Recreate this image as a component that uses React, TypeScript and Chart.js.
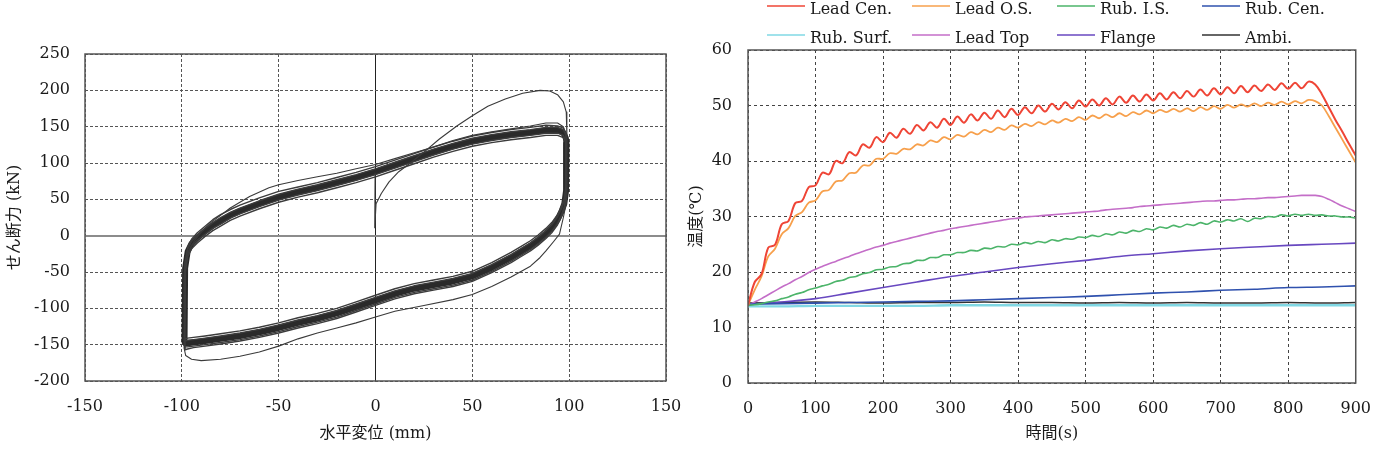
import React, { useEffect, useRef } from "react";
import { Chart, registerables } from "chart.js";

Chart.register(...registerables);

const SERIF = "'DejaVu Serif', 'Noto Sans CJK JP', serif";
const TEXT = "#1a1a1a";

// ---------- Hysteresis loops: shear force vs horizontal displacement ----------
// Displacement stations of the loading branch (moving right) and unloading branch (moving left), mm
const upperX = [-98.6, -98.3, -97, -95, -92, -88, -84, -80, -75, -70, -60, -50, -40, -30, -20, -10, 0, 10, 20, 30, 40, 50, 60, 70, 80, 88, 94, 97, 98.3];
const lowerX = [98.6, 98.4, 97.5, 96, 94, 91, 88, 84, 80, 75, 70, 60, 50, 40, 30, 20, 10, 0, -10, -20, -30, -40, -50, -60, -70, -80, -88, -94, -97, -98.3];

// Steady cycles (kN)
const coreUpper = [-146, -45, -22, -11, -3, 6, 14, 20, 28, 34, 44, 53, 60, 66, 73, 80, 88, 97, 106, 115, 123, 130, 135, 139, 142, 145, 145, 142, 134];
const coreLower = [128, 62, 44, 33, 22, 11, 3, -6, -14, -22, -30, -44, -56, -63, -68, -73, -80, -89, -98, -107, -114, -120, -127, -133, -138, -142, -145, -147, -148, -148];

const cycleAUpper = [-150, -38, -16, -5, 4, 13, 22, 29, 36, 42, 52, 61, 67, 73, 80, 87, 95, 104, 113, 122, 130, 137, 142, 146, 149, 152, 151, 148, 140];
const cycleALower = [136, 70, 52, 40, 29, 18, 10, 1, -7, -15, -23, -37, -49, -56, -61, -66, -73, -82, -91, -100, -107, -113, -120, -126, -131, -135, -138, -140, -141, -142];

const cycleBUpper = [-142, -52, -29, -18, -10, -1, 7, 13, 21, 27, 37, 46, 53, 59, 66, 73, 81, 90, 99, 108, 116, 123, 128, 132, 135, 138, 138, 135, 128];
const cycleBLower = [120, 55, 37, 26, 15, 4, -4, -13, -21, -29, -37, -51, -63, -70, -75, -80, -87, -96, -105, -114, -121, -127, -134, -140, -145, -149, -152, -154, -156, -157];

const cycleCUpper = [-155, -42, -19, -8, 1, 10, 18, 25, 32, 38, 48, 57, 64, 70, 77, 84, 92, 101, 110, 119, 127, 134, 139, 143, 146, 149, 149, 146, 138];
const cycleCLower = [132, 58, 40, 28, 17, 6, -2, -11, -19, -27, -35, -49, -61, -68, -73, -78, -85, -94, -103, -112, -119, -125, -132, -138, -143, -147, -150, -152, -153, -153];

const cycleDUpper = [-144, -48, -25, -14, -6, 2, 10, 16, 24, 30, 40, 49, 56, 62, 69, 76, 84, 93, 102, 111, 119, 126, 131, 135, 138, 141, 141, 138, 130];
const cycleDLower = [124, 66, 48, 37, 26, 15, 7, -2, -10, -18, -26, -40, -52, -59, -64, -69, -76, -85, -94, -103, -110, -116, -123, -129, -134, -138, -141, -143, -144, -145];

// First cycle (virgin loading) traced on its own
const firstX = [-0.2, -0.4, 0.3, 3, 7, 12, 18, 25, 33, 42, 50, 58, 67, 76, 85, 90, 94, 97, 98.5, 98.8, 98.9, 98.5, 97, 95, 92, 88, 85, 80, 70, 60, 50, 40, 25, 10, 0, -10, -20, -30, -40, -50, -60, -70, -80, -90, -95, -98, -98.8, -98.9, -98.3, -96, -93, -90, -85, -80, -75, -65, -55, -50, -40, -30, -20, -10, 0, 10, 20, 30, 40, 50, 60, 70, 80, 88, 94, 97, 98.4];
const firstY = [86, 11, 44, 58, 74, 88, 100, 115, 133, 151, 165, 178, 188, 196, 200, 199, 194, 184, 170, 140, 60, 45, 25, 2, -8, -21, -30, -42, -57, -70, -81, -88, -96, -104, -112, -120, -127, -134, -142, -152, -160, -166, -170, -172, -170, -165, -155, -60, -35, -18, -5, 5, 18, 28, 38, 54, 66, 70, 76, 81, 86, 92, 98, 106, 114, 122, 131, 138, 143, 147, 151, 155, 155, 150, 138];

const forceTicks = { min: -200, max: 250, step: 50 };
const dispTicks = { min: -150, max: 150, step: 50 };

// ---------- Temperature histories ----------
const timeFine = [0, 10, 20, 30, 40, 50, 60, 70, 80, 90, 100, 110, 120, 130, 140, 150, 160, 170, 180, 190, 200, 210, 220, 230, 240, 250, 260, 270, 280, 290, 300, 310, 320, 330, 340, 350, 360, 370, 380, 390, 400, 410, 420, 430, 440, 450, 460, 470, 480, 490, 500, 510, 520, 530, 540, 550, 560, 570, 580, 590, 600, 610, 620, 630, 640, 650, 660, 670, 680, 690, 700, 710, 720, 730, 740, 750, 760, 770, 780, 790, 800, 810, 820, 830, 840, 850, 860, 870, 880, 890, 900];
const timeCoarse = [0, 50, 100, 150, 200, 250, 300, 350, 400, 450, 500, 550, 600, 650, 700, 750, 800, 850, 900];

const leadCen = [14.0, 18.2, 19.6, 24.4, 24.9, 28.6, 29.2, 32.4, 32.8, 35.3, 35.6, 37.9, 37.6, 40.0, 39.6, 41.6, 41.0, 43.0, 42.4, 44.3, 43.4, 45.1, 44.2, 45.8, 44.9, 46.5, 45.5, 47.0, 46.0, 47.6, 46.5, 48.0, 46.9, 48.4, 47.3, 48.7, 47.6, 49.1, 47.9, 49.4, 48.3, 49.7, 48.6, 50.0, 48.9, 50.3, 49.3, 50.6, 49.5, 50.9, 49.8, 51.1, 50.0, 51.3, 50.2, 51.6, 50.5, 51.8, 50.7, 52.0, 50.9, 52.2, 51.1, 52.4, 51.3, 52.6, 51.6, 52.9, 51.8, 53.1, 52.0, 53.3, 52.2, 53.5, 52.4, 53.6, 52.6, 53.8, 52.8, 54.0, 53.0, 54.1, 53.1, 54.3, 53.8, 52.0, 49.7, 47.4, 45.3, 43.1, 41.0];
const leadOS = [14.0, 16.8, 19.2, 22.8, 24.2, 26.8, 27.9, 30.1, 30.8, 32.5, 32.9, 34.5, 34.8, 36.3, 36.5, 37.8, 37.9, 39.2, 39.2, 40.4, 40.4, 41.4, 41.3, 42.2, 42.1, 43.0, 42.8, 43.7, 43.4, 44.3, 43.9, 44.7, 44.4, 45.2, 44.8, 45.6, 45.2, 46.0, 45.6, 46.4, 46.0, 46.7, 46.3, 47.0, 46.6, 47.3, 46.9, 47.6, 47.2, 47.9, 47.4, 48.2, 47.7, 48.4, 47.9, 48.6, 48.1, 48.8, 48.4, 49.1, 48.6, 49.2, 48.8, 49.4, 48.9, 49.5, 49.0, 49.7, 49.2, 49.9, 49.4, 50.1, 49.6, 50.2, 49.8, 50.4, 49.9, 50.5, 50.1, 50.7, 50.2, 50.8, 50.4, 51.0, 50.8, 50.0, 48.1, 46.0, 43.9, 41.8, 39.7];
const rubIS = [14.0, 14.1, 14.3, 14.6, 14.8, 15.2, 15.5, 16.0, 16.3, 16.8, 17.1, 17.5, 17.8, 18.3, 18.5, 19.0, 19.2, 19.7, 19.9, 20.4, 20.5, 20.9, 21.0, 21.5, 21.6, 22.1, 22.1, 22.6, 22.6, 23.1, 23.1, 23.5, 23.5, 23.9, 23.8, 24.3, 24.2, 24.6, 24.5, 25.0, 24.9, 25.3, 25.1, 25.5, 25.3, 25.8, 25.6, 26.0, 25.9, 26.3, 26.2, 26.6, 26.4, 26.9, 26.7, 27.2, 27.0, 27.5, 27.3, 27.8, 27.6, 28.1, 27.9, 28.4, 28.1, 28.6, 28.4, 28.9, 28.6, 29.2, 29.0, 29.4, 29.2, 29.6, 29.1, 29.7, 29.6, 30.0, 29.9, 30.3, 30.1, 30.4, 30.2, 30.4, 30.2, 30.3, 30.1, 30.1, 29.9, 29.9, 29.7];
const leadTop = [14.0, 14.6, 15.2, 15.9, 16.6, 17.3, 17.9, 18.6, 19.2, 19.9, 20.5, 21.0, 21.5, 21.9, 22.4, 22.8, 23.3, 23.7, 24.1, 24.5, 24.8, 25.2, 25.5, 25.8, 26.1, 26.4, 26.7, 27.0, 27.3, 27.5, 27.8, 28.0, 28.2, 28.4, 28.6, 28.8, 29.0, 29.2, 29.4, 29.6, 29.7, 29.9, 30.0, 30.1, 30.2, 30.3, 30.4, 30.5, 30.6, 30.7, 30.8, 30.9, 31.0, 31.2, 31.3, 31.4, 31.5, 31.6, 31.8, 31.9, 32.0, 32.1, 32.2, 32.3, 32.4, 32.5, 32.6, 32.7, 32.8, 32.8, 32.9, 33.0, 33.0, 33.1, 33.2, 33.2, 33.3, 33.4, 33.4, 33.5, 33.6, 33.7, 33.8, 33.8, 33.8, 33.6, 33.1, 32.5, 31.9, 31.4, 30.9];
const flange = [14.2, 14.6, 15.2, 16.2, 17.2, 18.2, 19.2, 20.0, 20.8, 21.5, 22.1, 22.8, 23.3, 23.8, 24.2, 24.5, 24.8, 25.0, 25.2];
const rubCen = [14.2, 14.3, 14.4, 14.5, 14.6, 14.7, 14.8, 15.0, 15.2, 15.4, 15.6, 15.9, 16.2, 16.4, 16.7, 16.9, 17.2, 17.3, 17.5];
const rubSurf = [13.8, 13.8, 13.9, 13.9, 13.9, 13.9, 14.0, 14.0, 14.0, 14.0, 14.0, 14.0, 14.0, 14.0, 14.0, 14.0, 14.0, 14.0, 14.0];
const ambient = [14.4, 14.5, 14.6, 14.5, 14.4, 14.5, 14.5, 14.6, 14.5, 14.5, 14.4, 14.5, 14.4, 14.5, 14.4, 14.4, 14.5, 14.4, 14.5];

const seriesLabels = ["Lead Cen.", "Lead O.S.", "Rub. I.S.", "Rub. Cen.", "Rub. Surf.", "Lead Top", "Flange", "Ambi."];
const seriesColors = ["#ef4536", "#f7a04c", "#4cb46a", "#2f51ae", "#80d8e4", "#c46ec8", "#6848c0", "#333333"];

const timeTicks = { min: 0, max: 900, step: 100 };
const tempTicks = { min: 0, max: 60, step: 10 };

const toPoints = (xs: number[], ys: number[]) => xs.map((x, i) => ({ x, y: ys[i] }));
const loopPoints = (up: number[], low: number[]) => {
  const pts = toPoints(upperX, up).concat(toPoints(lowerX, low));
  pts.push({ x: upperX[0], y: up[0] });
  return pts;
};

// Solid frame around the plot area
const framePlugin = {
  id: "frame",
  afterDatasetsDraw(chart: any, _args: any, opts: any) {
    const { ctx, chartArea } = chart;
    const { left, top, right, bottom } = chartArea;
    ctx.save();
    ctx.strokeStyle = opts.color || "#555";
    ctx.lineWidth = opts.width || 1.5;
    ctx.setLineDash([]);
    ctx.strokeRect(left, top, right - left, bottom - top);
    ctx.restore();
  },
};

// Legend laid out as a fixed 4-column grid
const gridLegendPlugin = {
  id: "gridLegend",
  afterDraw(chart: any, _args: any, opts: any) {
    const ctx = chart.ctx;
    ctx.save();
    ctx.font = `16px ${SERIF}`;
    ctx.textBaseline = "alphabetic";
    ctx.textAlign = "left";
    chart.data.datasets.forEach((ds: any, i: number) => {
      const col = i % opts.columns;
      const row = Math.floor(i / opts.columns);
      const x = opts.x0 + col * opts.colWidth;
      const base = opts.y0 + row * opts.rowHeight;
      ctx.strokeStyle = ds.borderColor;
      ctx.globalAlpha = 0.75;
      ctx.lineWidth = 2;
      ctx.beginPath();
      ctx.moveTo(x, base - 7.5);
      ctx.lineTo(x + opts.lineLength, base - 7.5);
      ctx.stroke();
      ctx.globalAlpha = 1;
      ctx.fillStyle = TEXT;
      ctx.fillText(ds.label, x + opts.lineLength + 5, base);
    });
    ctx.restore();
  },
};

function HysteresisChart() {
  const ref = useRef<HTMLCanvasElement | null>(null);
  useEffect(() => {
    if (!ref.current) return;
    const band = "#2a2a2a";
    const edge = "#3c3c3c";
    const chart = new Chart(ref.current, {
      type: "scatter",
      data: {
        datasets: [
          { data: toPoints(firstX, firstY), borderColor: "#3a3a3a", borderWidth: 1.1, showLine: true, pointRadius: 0 },
          { data: loopPoints(cycleAUpper, cycleALower), borderColor: edge, borderWidth: 1.4, showLine: true, pointRadius: 0 },
          { data: loopPoints(cycleBUpper, cycleBLower), borderColor: edge, borderWidth: 1.4, showLine: true, pointRadius: 0 },
          { data: loopPoints(cycleCUpper, cycleCLower), borderColor: edge, borderWidth: 1.4, showLine: true, pointRadius: 0 },
          { data: loopPoints(cycleDUpper, cycleDLower), borderColor: edge, borderWidth: 1.4, showLine: true, pointRadius: 0 },
          { data: loopPoints(coreUpper, coreLower), borderColor: band, borderWidth: 6, showLine: true, pointRadius: 0 },
        ],
      },
      plugins: [framePlugin],
      options: {
        animation: false,
        responsive: false,
        events: [],
        layout: { padding: { left: 0, right: 34, top: 54, bottom: 0 } },
        plugins: {
          legend: { display: false },
          tooltip: { enabled: false },
          frame: { color: "#555", width: 1.5 },
        } as any,
        elements: { line: { tension: 0, borderJoinStyle: "round", borderCapStyle: "round" } },
        scales: {
          x: {
            type: "linear",
            min: dispTicks.min,
            max: dispTicks.max,
            afterFit: (s: any) => { s.height = 72; },
            ticks: { stepSize: dispTicks.step, padding: 16, color: TEXT, font: { family: SERIF, size: 16 } },
            grid: {
              drawTicks: false,
              color: (c: any) => (c.tick && c.tick.value === 0 ? "#222" : "#555"),
              lineWidth: 1,
            },
            border: { display: false, dash: (c: any) => (c.tick && c.tick.value === 0 ? [] : [3, 2]) },
            title: { display: true, text: "水平変位 (mm)", color: TEXT, font: { family: SERIF, size: 16 }, padding: { top: 0, bottom: 10 } },
          },
          y: {
            type: "linear",
            min: forceTicks.min,
            max: forceTicks.max,
            afterFit: (s: any) => { s.width = 85; },
            ticks: { stepSize: forceTicks.step, padding: 15, color: TEXT, font: { family: SERIF, size: 16 } },
            grid: {
              drawTicks: false,
              color: (c: any) => (c.tick && c.tick.value === 0 ? "#8c8c8c" : "#555"),
              lineWidth: (c: any) => (c.tick && c.tick.value === 0 ? 2 : 1),
            },
            border: { display: false, dash: (c: any) => (c.tick && c.tick.value === 0 ? [] : [3, 2]) },
            title: { display: true, text: "せん断力 (kN)", color: TEXT, font: { family: SERIF, size: 16 }, padding: { top: 5, bottom: 0 } },
          },
        },
      } as any,
    });
    return () => chart.destroy();
  }, []);
  return <canvas ref={ref} width={700} height={453} style={{ position: "absolute", left: 0, top: 0 }} />;
}

function TemperatureChart() {
  const ref = useRef<HTMLCanvasElement | null>(null);
  useEffect(() => {
    if (!ref.current) return;
    const values = [leadCen, leadOS, rubIS, rubCen, rubSurf, leadTop, flange, ambient];
    const times = [timeFine, timeFine, timeFine, timeCoarse, timeCoarse, timeFine, timeCoarse, timeCoarse];
    const widths = [2, 1.8, 1.6, 1.6, 2.4, 1.6, 1.6, 1.5];
    const orders = [0, 0, 0, 0, 2, 0, 0, 1];
    const smooth = [0.35, 0.35, 0.3, 0, 0, 0.3, 0, 0];
    const chart = new Chart(ref.current, {
      type: "line",
      data: {
        datasets: seriesLabels.map((label, i) => ({
          label,
          data: toPoints(times[i], values[i]),
          borderColor: seriesColors[i],
          backgroundColor: seriesColors[i],
          borderWidth: widths[i],
          pointRadius: 0,
          fill: false,
          tension: smooth[i],
          cubicInterpolationMode: smooth[i] > 0 ? "default" : "monotone",
          order: orders[i],
        })),
      },
      plugins: [framePlugin, gridLegendPlugin],
      options: {
        animation: false,
        responsive: false,
        events: [],
        layout: { padding: { left: 0, right: 20, top: 50, bottom: 0 } },
        plugins: {
          legend: { display: false },
          tooltip: { enabled: false },
          frame: { color: "#555", width: 1.5 },
          gridLegend: { columns: 4, x0: 87, colWidth: 145, y0: 13.5, rowHeight: 29, lineLength: 38 },
        } as any,
        scales: {
          x: {
            type: "linear",
            min: timeTicks.min,
            max: timeTicks.max,
            afterFit: (s: any) => { s.height = 70; },
            ticks: { stepSize: timeTicks.step, padding: 16, color: TEXT, font: { family: SERIF, size: 16 } },
            grid: { drawTicks: false, color: "#444", lineWidth: 1 },
            border: { display: false, dash: [3, 3] },
            title: { display: true, text: "時間(s)", color: TEXT, font: { family: SERIF, size: 16 }, padding: { top: 0, bottom: 10 } },
          },
          y: {
            type: "linear",
            min: tempTicks.min,
            max: tempTicks.max,
            afterFit: (s: any) => { s.width = 68; },
            ticks: { stepSize: tempTicks.step, padding: 16, color: TEXT, font: { family: SERIF, size: 16 } },
            grid: { drawTicks: false, color: "#444", lineWidth: 1 },
            border: { display: false, dash: [3, 3] },
            title: { display: true, text: "温度(℃)", color: TEXT, font: { family: SERIF, size: 16 }, padding: { top: 7, bottom: 0 } },
          },
        },
      } as any,
    });
    return () => chart.destroy();
  }, []);
  return <canvas ref={ref} width={707} height={453} style={{ position: "absolute", left: 680, top: 0 }} />;
}

export default function App() {
  return (
    <div style={{ position: "absolute", left: 0, top: 0, width: 1387, height: 453, background: "#fff", overflow: "hidden" }}>
      <HysteresisChart />
      <TemperatureChart />
    </div>
  );
}
